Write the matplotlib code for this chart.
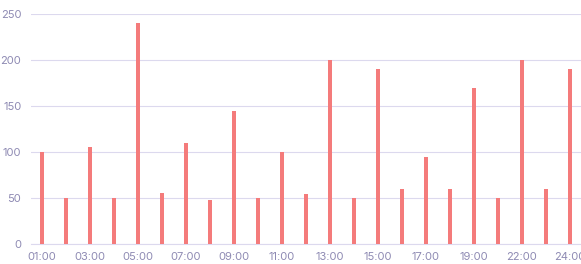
import numpy as np
import matplotlib.pyplot as plt

hours = ["01:00", "02:00", "03:00", "04:00", "05:00", "06:00", "07:00", "08:00",
         "09:00", "10:00", "11:00", "12:00", "13:00", "14:00", "15:00", "16:00",
         "17:00", "18:00", "19:00", "20:00", "22:00", "23:00", "24:00"]
counts = [100, 50, 105, 50, 240, 55, 110, 48, 145, 50, 100, 54,
          200, 50, 190, 60, 95, 60, 170, 50, 200, 60, 190]
yticks = [0, 50, 100, 150, 200, 250]

bar_color = '#f47b7b'
grid_color = '#dcd9ee'
text_color = '#8e8ab3'

plt.rcParams['font.family'] = ['Inter', 'DejaVu Sans']

fig = plt.figure(figsize=(5.81, 2.64), dpi=100)
ax = fig.add_axes([31 / 581, 20 / 264, 550 / 581, 230 / 264])

x = np.arange(len(hours))
ax.bar(x, counts, width=0.2, color=bar_color, zorder=3)

ax.set_xlim(-0.46, 22.46)
ax.set_ylim(0, 250)
ax.set_yticks(yticks)
ax.set_xticks(x[::2])
ax.set_xticklabels(hours[::2])

ax.grid(axis='y', color=grid_color, linewidth=0.8, zorder=0)
for side in ['top', 'right', 'left']:
    ax.spines[side].set_visible(False)
ax.spines['bottom'].set_color(grid_color)
ax.spines['bottom'].set_linewidth(0.8)
ax.tick_params(length=0, colors=text_color, labelsize=8)
ax.tick_params(axis='y', pad=7)
ax.tick_params(axis='x', pad=6)

fig.savefig('out.png', dpi=100)
